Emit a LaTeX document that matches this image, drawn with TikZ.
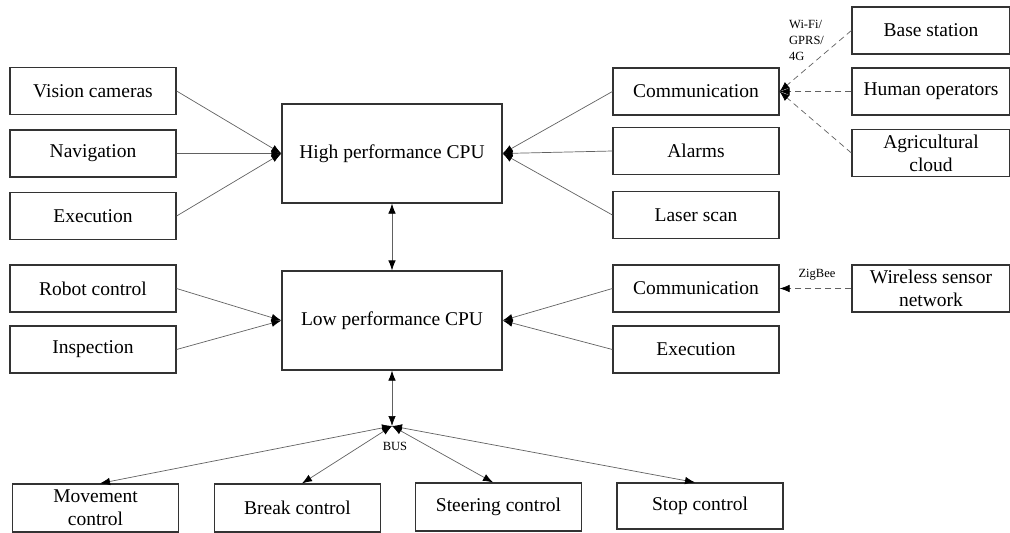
\documentclass[tikz,border=0pt]{standalone}
\usepackage{fontspec}
\setmainfont{Liberation Serif}
\usetikzlibrary{arrows.meta,positioning}
\definecolor{cline}{rgb}{0.38,0.38,0.38}

\begin{document}
\begin{tikzpicture}[x=1pt,y=-1pt,>={Latex[length=10pt,width=7.5pt,color=black]},
  font=\fontsize{19.5}{23}\selectfont,
  box/.style={rectangle,draw=black!80,line width=1.2pt,inner sep=0pt,
    minimum width=166pt,minimum height=47pt,align=center},
  far box/.style={box,minimum width=158pt},
  cpu box/.style={box,minimum width=220pt,minimum height=99pt},
  link/.style={draw=cline,line width=0.7pt},
  radio/.style={link,dash pattern=on 6pt off 4pt},
  small/.style={font=\fontsize{12.5}{16}\selectfont,inner sep=0pt}]
  \useasboundingbox (0,0) rectangle (1010,533);

  % high performance part
  \node[box] (vision) at (93,91) {Vision cameras};
  \node[box] (navi) at (93,153.5) {Navigation};
  \node[box] (exec) at (93,216) {Execution};
  \node[cpu box] (high) at (392,153.5) {High performance CPU};
  \node[box] (comm) at (696,91.5) {Communication};
  \node[box] (alarm) at (696,151) {Alarms};
  \node[box] (laser) at (696,215) {Laser scan};
  \node[far box] (base) at (931,30.5) {Base station};
  \node[far box] (human) at (931,91.5) {Human operators};
  \node[far box] (cloud) at (931,153) {Agricultural\\cloud};
  \node[small,align=left,anchor=west] (wifi) at (789,40) {Wi-Fi/\\GPRS/\\4G};

  % low performance part
  \node[box] (robot) at (93,288.5) {Robot control};
  \node[box] (insp) at (93,349.5) {Inspection};
  \node[cpu box] (low) at (392,320.5) {Low performance CPU};
  \node[box] (comm2) at (696,288.5) {Communication};
  \node[box] (exec2) at (696,349.5) {Execution};
  \node[far box] (wsn) at (931,288.5) {Wireless sensor\\network};
  \node[small] (zigbee) at (817,275) {ZigBee};

  % bus
  \coordinate (bus) at (392,426);
  \node[small] (buslabel) at (395,446) {BUS};
  \node[box,minimum height=48pt] (move) at (95.5,508) {Movement\\control};
  \node[box,minimum height=48pt] (brake) at (297.5,508) {Break control};
  \node[box,minimum height=48pt] (steer) at (498.5,507) {Steering control};
  \node[box,minimum height=46pt] (stop) at (700,506) {Stop control};

  \path[every edge/.style={link,->}]
    (vision.east) edge (high.west)
    (navi.east) edge (high.west)
    (exec.east) edge (high.west)
    (comm.west) edge (high.east)
    (alarm.west) edge (high.east)
    (laser.west) edge (high.east)
    (robot.east) edge (low.west)
    (insp.east) edge (low.west)
    (comm2.west) edge (low.east)
    (exec2.west) edge (low.east);
  \path[every edge/.style={radio,->}]
    (base.west) edge (comm.east)
    (human.west) edge (comm.east)
    (cloud.west) edge (comm.east)
    (wsn.west) edge (comm2.east);
  \path[every edge/.style={link,<->}]
    (high.south) edge (low.north)
    (low.south) edge (bus)
    (bus) edge ([xshift=4.5pt]move.north)
    (bus) edge ([xshift=4.5pt]brake.north)
    (bus) edge ([xshift=-5.5pt]steer.north)
    (bus) edge ([xshift=-5pt]stop.north);
\end{tikzpicture}
\end{document}
